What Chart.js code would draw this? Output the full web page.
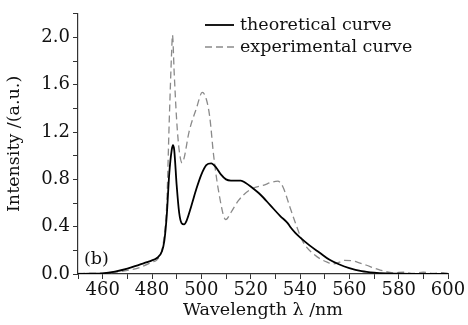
<!DOCTYPE html>
<html>
<head>
<meta charset="utf-8">
<script src="https://cdn.jsdelivr.net/npm/chart.js@4"></script>
<style>
  html, body { margin: 0; padding: 0; background: #fff; }
  #wrap { width: 468px; height: 325px; }
</style>
</head>
<body>
<div id="wrap"><canvas id="spectrum"></canvas></div>
<script>
// wavelength (nm) / intensity (a.u.)
const theoWavelength = [450, 455, 460, 465, 470, 475, 478, 480, 482, 484, 485, 486, 487, 488, 488.5, 489, 490, 491, 492, 493, 494, 496, 498, 500, 502, 504, 506, 508, 510, 512, 514, 516, 518, 520, 524, 528, 532, 535, 536, 538, 540, 544, 548, 552, 556, 560, 565, 570, 575, 580, 590, 600];
const theoIntensity = [0, 0.002, 0.005, 0.02, 0.045, 0.08, 0.1, 0.115, 0.135, 0.19, 0.28, 0.5, 0.85, 1.05, 1.09, 1.05, 0.75, 0.52, 0.43, 0.42, 0.45, 0.58, 0.72, 0.84, 0.92, 0.935, 0.9, 0.84, 0.8, 0.79, 0.79, 0.79, 0.77, 0.74, 0.67, 0.58, 0.49, 0.43, 0.4, 0.35, 0.31, 0.24, 0.18, 0.12, 0.08, 0.05, 0.025, 0.012, 0.005, 0.002, 0, 0];

const expWavelength = [450, 455, 460, 465, 470, 475, 480, 482, 484, 485, 486, 487, 488, 488.3, 489, 490, 491, 492.2, 493, 495, 498, 500.4, 502, 503.4, 505, 507, 509.9, 512, 515, 519.6, 525, 531, 533, 536, 538, 541, 546, 551, 553.5, 556, 558, 561.5, 564, 567, 570, 572.5, 578, 582, 586, 590, 594, 598, 600];
const expIntensity = [0.005, 0.005, 0.008, 0.015, 0.03, 0.055, 0.1, 0.12, 0.2, 0.33, 0.6, 1.3, 1.9, 2.02, 1.7, 1.3, 1.05, 0.94, 0.98, 1.2, 1.4, 1.535, 1.48, 1.33, 1.0, 0.7, 0.46, 0.52, 0.62, 0.71, 0.75, 0.785, 0.74, 0.56, 0.44, 0.28, 0.16, 0.1, 0.085, 0.1, 0.116, 0.11, 0.095, 0.074, 0.05, 0.033, 0.01, 0.015, 0.005, 0.015, 0.005, 0.012, 0.005];

const seriesLabels = ["theoretical curve", "experimental curve"];
const xLabelTicks = [460, 480, 500, 520, 540, 560, 580, 600];
const yLabelTicks = [0, 0.4, 0.8, 1.2, 1.6, 2.0];
const panelTag = "(b)";

const FONT = "'DejaVu Serif', 'Liberation Serif', serif";
const AXIS = "#333";

function toPoints(xs, ys) {
  return xs.map((x, i) => ({ x: x, y: ys[i] }));
}

// legend + panel tag drawn inside the plot area
const insideText = {
  id: "insideText",
  afterDraw(chart) {
    const ctx = chart.ctx;
    const area = chart.chartArea;
    ctx.save();
    ctx.font = "17.5px " + FONT;
    ctx.fillStyle = "#111";
    ctx.textBaseline = "middle";
    chart.data.datasets.forEach((ds, i) => {
      const y = 25 + i * 22;
      ctx.beginPath();
      ctx.strokeStyle = ds.borderColor;
      ctx.lineWidth = ds.borderWidth;
      ctx.setLineDash(ds.borderDash || []);
      ctx.moveTo(205, y);
      ctx.lineTo(234, y);
      ctx.stroke();
      ctx.setLineDash([]);
      ctx.fillText(ds.label, 240, y);
    });
    ctx.fillText(panelTag, area.left + 6, area.bottom - 15);
    ctx.restore();
  },
};

new Chart(document.getElementById("spectrum"), {
  type: "line",
  data: {
    datasets: [
      {
        label: seriesLabels[0],
        data: toPoints(theoWavelength, theoIntensity),
        borderColor: "#000",
        borderWidth: 1.8,
        pointRadius: 0,
        cubicInterpolationMode: "monotone",
      },
      {
        label: seriesLabels[1],
        data: toPoints(expWavelength, expIntensity),
        borderColor: "#8a8a8a",
        borderWidth: 1.3,
        borderDash: [7, 4],
        pointRadius: 0,
        cubicInterpolationMode: "monotone",
      },
    ],
  },
  options: {
    responsive: true,
    maintainAspectRatio: false,
    animation: false,
    layout: { padding: { top: 7, right: 20, left: 0, bottom: 0 } },
    plugins: { legend: { display: false }, tooltip: { enabled: false } },
    scales: {
      x: {
        type: "linear",
        min: 450,
        max: 600,
        afterFit: (scale) => { scale.height = 51; },
        border: { color: AXIS, width: 1.2 },
        grid: { drawOnChartArea: false, color: AXIS, tickLength: 5 },
        ticks: {
          stepSize: 10,
          maxRotation: 0,
          autoSkip: false,
          color: "#111",
          padding: 1,
          font: { family: FONT, size: 18 },
          callback: (v) => (xLabelTicks.includes(v) ? String(v) : ""),
        },
        title: {
          display: true,
          text: "Wavelength \u03bb /nm",
          color: "#111",
          padding: { top: 0 },
          font: { family: FONT, size: 17.5 },
        },
      },
      y: {
        min: 0,
        max: 2.2,
        afterFit: (scale) => { scale.width = 78; },
        border: { color: AXIS, width: 1.2 },
        grid: { drawOnChartArea: false, color: AXIS, tickLength: 5 },
        ticks: {
          stepSize: 0.2,
          autoSkip: false,
          color: "#111",
          padding: 3,
          font: { family: FONT, size: 18 },
          callback: (v) => (yLabelTicks.some((t) => Math.abs(t - v) < 1e-6) ? v.toFixed(1) : ""),
        },
        title: {
          display: true,
          text: "Intensity /(a.u.)",
          color: "#111",
          padding: { bottom: 0 },
          font: { family: FONT, size: 17.5 },
        },
      },
    },
  },
  plugins: [insideText],
});
</script>
</body>
</html>
